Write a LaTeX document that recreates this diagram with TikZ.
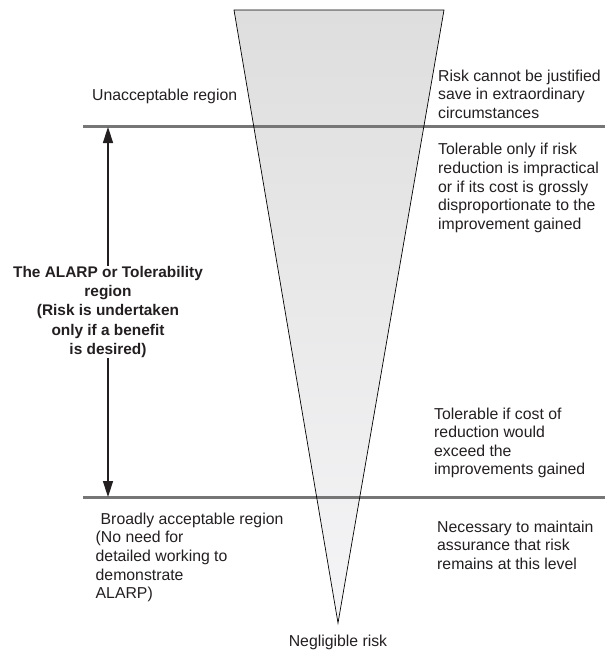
\documentclass[tikz,border=0pt]{standalone}
\usepackage{fontspec}
\setmainfont{Liberation Sans}
\usetikzlibrary{arrows.meta}
\definecolor{txt}{HTML}{231F20}
\definecolor{rule}{HTML}{767676}
\definecolor{topgray}{HTML}{DEDEDE}
\definecolor{botgray}{HTML}{F5F5F7}
\tikzset{
  lbl/.style={inner sep=0pt, align=left, anchor=west, text=txt,
    font=\fontsize{15.8}{18.6}\selectfont},
  boldlbl/.style={inner sep=0pt, align=center, text=txt,
    font=\fontsize{15.4}{19.4}\selectfont\bfseries},
  level/.style={draw=rule, line width=3pt},
  dblarrow/.style={draw=txt, line width=1.5pt, -{Triangle[length=16pt,width=10pt]}},
  funnelfill/.style={top color=topgray, bottom color=botgray},
  funneledge/.style={draw=black, line width=0.7pt, line join=miter}
}
\begin{document}
\begin{tikzpicture}[x=1pt,y=-1pt]
\useasboundingbox (0,0) rectangle (605,653);
% funnel
\coordinate (tl) at (234,10);
\coordinate (tr) at (444,10);
\coordinate (apex) at (338,623);
\path[funnelfill] (tl) -- (tr) -- (apex) -- cycle;
% level lines
\coordinate (l1a) at (83,126.7);
\coordinate (l1b) at (605,126.7);
\coordinate (l2a) at (83,497);
\coordinate (l2b) at (605,497);
\draw[level] (l1a) -- (l1b);
\draw[level] (l2a) -- (l2b);
\draw[funneledge] (tl) -- (tr) -- (apex) -- cycle;
% left texts
\node[lbl] (unacc) at (92,96) {Unacceptable region};
\node[boldlbl] (alarp) at (108,312) {The ALARP or Tolerability\\region\\(Risk is undertaken\\only if a benefit\\is desired)};
\coordinate (atop) at (108,127);
\coordinate (abot) at (108,497);
\draw[dblarrow] (alarp.north) -- (atop);
\draw[dblarrow] (alarp.south) -- (abot);
\node[lbl] (broad) at (95.5,557.5) {\hspace{5pt}Broadly acceptable region\\(No need for\\detailed working to\\demonstrate\\ALARP)};
% right texts
\node[lbl] (r1) at (438,94) {Risk cannot be justified\\save in extraordinary\\circumstances};
\node[lbl] (r2) at (438,188) {Tolerable only if risk\\reduction is impractical\\or if its cost is grossly\\disproportionate to the\\improvement gained};
\node[lbl] (r3) at (434,443) {Tolerable if cost of\\reduction would\\exceed the\\improvements gained};
\node[lbl] (r4) at (437,545) {Necessary to maintain\\assurance that risk\\remains at this level};
% bottom
\node[lbl, anchor=center] (negl) at (338,642) {Negligible risk};
\end{tikzpicture}
\end{document}
